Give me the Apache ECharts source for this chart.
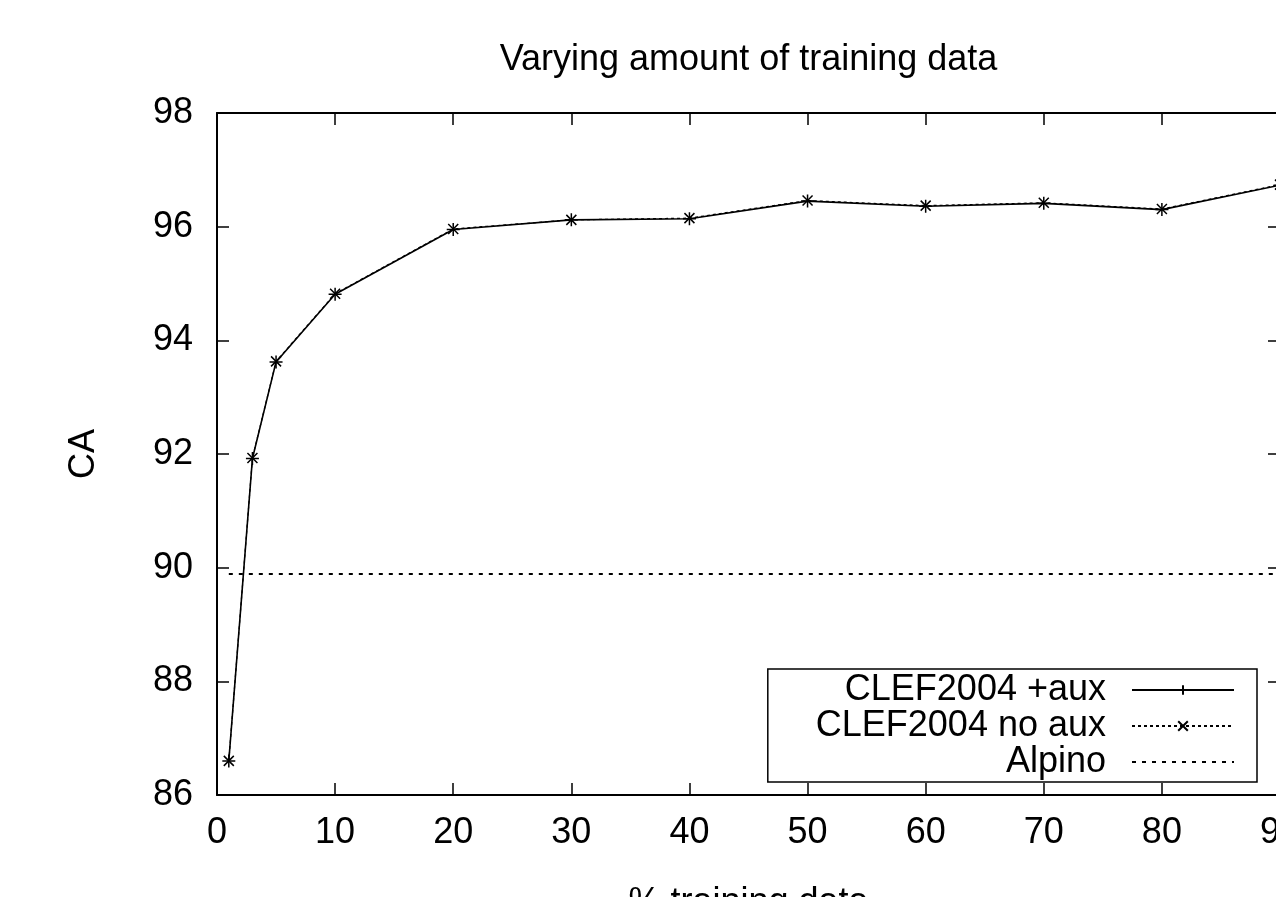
<!DOCTYPE html>
<html>
<head>
<meta charset="utf-8">
<title>Varying amount of training data</title>
<script src="https://cdn.jsdelivr.net/npm/echarts@6/dist/echarts.min.js"></script>
<style>
  html, body { margin: 0; padding: 0; background: #fff; }
  #chart { width: 1276px; height: 897px; }
</style>
</head>
<body>
<div id="chart"></div>
<script>
// % training data
var trainPct = [1, 3, 5, 10, 20, 30, 40, 50, 60, 70, 80, 90];
// CA per run
var withAux = [86.6, 91.92, 93.62, 94.81, 95.95, 96.12, 96.14, 96.45, 96.36, 96.41, 96.30, 96.73];
var noAux = [86.6, 91.93, 93.63, 94.82, 95.96, 96.12, 96.15, 96.46, 96.37, 96.42, 96.31, 96.74];
// Alpino baseline
var alpinoX = [1, 90];
var alpinoCA = 89.89;

var font = "'Liberation Sans', Arial, Helvetica, sans-serif";
var PLUS = "path://M0,5L10,5M5,0L5,10";
var CROSS = "path://M0,0L10,10M10,0L0,10";

function pairs(xs, ys) {
  return xs.map(function (x, i) { return [x, ys[i]]; });
}

var myChart = echarts.init(document.getElementById("chart"));
myChart.setOption({
  animation: false,
  backgroundColor: "#fff",
  textStyle: { fontFamily: font, color: "#000" },
  grid: { left: 217, right: -4, top: 113, bottom: 102, outerBoundsMode: "none", containLabel: false },
  legend: {
    orient: "vertical",
    align: "right",
    right: 19,
    bottom: 115,
    padding: [3, 22, 2, 48],
    itemGap: 0,
    itemWidth: 102,
    itemHeight: 12,
    borderColor: "#000",
    borderWidth: 1.5,
    backgroundColor: "#fff",
    textStyle: { fontSize: 36, lineHeight: 36, color: "#000", padding: [0, 21, 0, 0] },
    data: [
      "CLEF2004 +aux",
      "CLEF2004 no aux",
      { name: "Alpino", itemStyle: { color: "rgba(0,0,0,0)", borderWidth: 0 } }
    ]
  },
  xAxis: [
    {
      type: "value",
      min: 0,
      max: 90,
      interval: 10,
      name: "% training data",
      nameLocation: "middle",
      nameGap: 90,
      nameTextStyle: { fontSize: 36, color: "#000" },
      axisLine: { onZero: false, lineStyle: { color: "#000", width: 2 } },
      axisTick: { inside: true, length: 12, lineStyle: { color: "#000", width: 1.5 } },
      axisLabel: { fontSize: 36, color: "#000", margin: 20 },
      splitLine: { show: false }
    },
    {
      type: "value",
      position: "top",
      min: 0,
      max: 90,
      interval: 10,
      name: "Varying amount of training data",
      nameLocation: "middle",
      nameGap: 35,
      nameTextStyle: { fontSize: 36, color: "#000" },
      axisLine: { onZero: false, lineStyle: { color: "#000", width: 2 } },
      axisTick: { inside: true, length: 12, lineStyle: { color: "#000", width: 1.5 } },
      axisLabel: { show: false },
      splitLine: { show: false }
    }
  ],
  yAxis: [
    {
      type: "value",
      min: 86,
      max: 98,
      interval: 2,
      name: "CA",
      nameLocation: "middle",
      nameGap: 115,
      nameTextStyle: { fontSize: 36, color: "#000" },
      axisLine: { show: true, onZero: false, lineStyle: { color: "#000", width: 2 } },
      axisTick: { show: true, inside: true, length: 12, lineStyle: { color: "#000", width: 1.5 } },
      axisLabel: { fontSize: 36, color: "#000", margin: 24 },
      splitLine: { show: false }
    },
    {
      type: "value",
      position: "right",
      min: 86,
      max: 98,
      interval: 2,
      axisLine: { show: true, onZero: false, lineStyle: { color: "#000", width: 2 } },
      axisTick: { show: true, inside: true, length: 12, lineStyle: { color: "#000", width: 1.5 } },
      axisLabel: { show: false },
      splitLine: { show: false }
    }
  ],
  series: [
    {
      name: "CLEF2004 +aux",
      type: "line",
      data: pairs(trainPct, withAux),
      symbol: PLUS,
      symbolSize: 13,
      showAllSymbol: true,
      lineStyle: { color: "#000", width: 1.6, type: "solid" },
      itemStyle: { color: "#000", borderColor: "#000", borderWidth: 1.5 },
      z: 3
    },
    {
      name: "CLEF2004 no aux",
      type: "line",
      data: pairs(trainPct, noAux),
      symbol: CROSS,
      symbolSize: 10,
      showAllSymbol: true,
      lineStyle: { color: "#000", width: 1.2, type: [3, 3] },
      itemStyle: { color: "#000", borderColor: "#000", borderWidth: 1.5 },
      z: 2
    },
    {
      name: "Alpino",
      type: "line",
      data: alpinoX.map(function (x) { return [x, alpinoCA]; }),
      symbol: "none",
      itemStyle: { color: "#000" },
      lineStyle: { color: "#000", width: 2, type: [4, 6] },
      z: 1
    }
  ]
});
</script>
</body>
</html>
